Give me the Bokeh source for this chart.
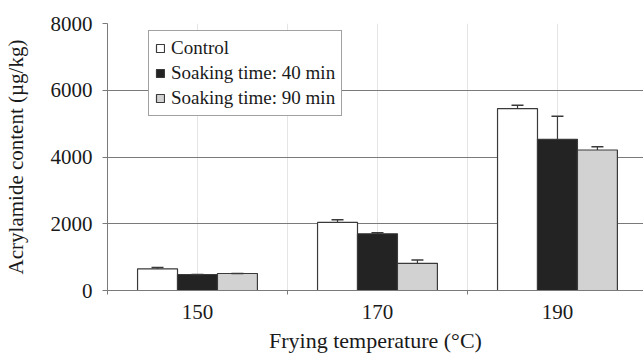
from bokeh.plotting import figure
from bokeh.models import (Range1d, LinearAxis, FixedTicker,
                          ColumnDataSource, Whisker, TeeHead, Legend, LegendItem)
from bokeh.transform import dodge
from bokeh.embed import file_html
from bokeh.resources import INLINE

temps = ["150", "170", "190"]
control = [650, 2040, 5450]
control_err = [40, 80, 100]
soak40 = [480, 1700, 4530]
soak40_err = [0, 30, 690]
soak90 = [510, 815, 4210]
soak90_err = [0, 100, 100]
series_labels = ["Control", "Soaking time: 40 min", "Soaking time: 90 min"]
y_ticks = [0, 2000, 4000, 6000, 8000]

FONT = "Liberation Serif"
GRID = "#7a7a7a"
EDGE = "#3a3a3a"

pos = list(range(len(temps)))
src = ColumnDataSource(dict(
    pos=pos, temp=temps,
    control=control, control_hi=[v + e for v, e in zip(control, control_err)],
    soak40=soak40, soak40_hi=[v + e for v, e in zip(soak40, soak40_err)],
    soak90=soak90, soak90_hi=[v + e for v, e in zip(soak90, soak90_err)],
))

# the last category is slightly cut by the right edge in the original
p = figure(width=643, height=355,
           x_range=Range1d(0, len(temps) - 0.022),
           y_range=Range1d(0, 8000),
           output_backend="svg", toolbar_location=None,
           x_axis_location=None,
           min_border_left=107, min_border_top=23, min_border_right=0, min_border_bottom=0)
p.outline_line_color = None
p.background_fill_color = "white"

# y axis
p.yaxis.ticker = FixedTicker(ticks=y_ticks)
p.yaxis.axis_line_color = GRID
p.yaxis.major_tick_line_color = GRID
p.yaxis.major_tick_out = 5
p.yaxis.major_tick_in = 0
p.yaxis.minor_tick_line_color = None
p.yaxis.major_label_text_font = FONT
p.yaxis.major_label_text_font_size = "21px"
p.yaxis.major_label_text_color = "#1a1a1a"
p.yaxis.major_label_standoff = 10
p.yaxis.axis_label = "Acrylamide content (µg/kg)"
p.yaxis.axis_label_text_font = FONT
p.yaxis.axis_label_text_font_style = "normal"
p.yaxis.axis_label_text_font_size = "21px"
p.yaxis.axis_label_text_color = "#1a1a1a"
p.yaxis.axis_label_standoff = 20
p.ygrid.ticker = FixedTicker(ticks=y_ticks)
p.ygrid.grid_line_color = GRID
p.ygrid.grid_line_width = 1.2

# x axis: boundary ticks between categories
bounds = list(range(len(temps) + 1))
bound_axis = LinearAxis(ticker=FixedTicker(ticks=bounds),
                        major_tick_out=4, major_tick_in=0,
                        major_label_overrides={b: "" for b in bounds},
                        major_label_text_font_size="0px", major_label_standoff=0,
                        minor_tick_line_color=None,
                        axis_line_color=GRID, major_tick_line_color=GRID)
p.add_layout(bound_axis, "below")
centers = [i + 0.5 for i in pos]
cat_axis = LinearAxis(ticker=FixedTicker(ticks=centers),
                      major_label_overrides={c: t for c, t in zip(centers, temps)},
                      axis_line_color=None, major_tick_line_color=None, minor_tick_line_color=None,
                      major_label_text_font=FONT, major_label_text_font_size="21px",
                      major_label_text_color="#1a1a1a", major_label_standoff=4,
                      axis_label="Frying temperature (°C)", axis_label_text_font=FONT,
                      axis_label_text_font_style="normal", axis_label_text_font_size="22px",
                      axis_label_text_color="#1a1a1a", axis_label_standoff=6)
p.add_layout(cat_axis, "below")

W = 0.222
r1 = p.vbar(x=dodge("pos", 0.5 - W), top="control", width=W, source=src,
            fill_color="white", line_color=EDGE, line_width=1.2)
r2 = p.vbar(x=dodge("pos", 0.5), top="soak40", width=W, source=src,
            fill_color="#232323", line_color=EDGE, line_width=1.2)
r3 = p.vbar(x=dodge("pos", 0.5 + W), top="soak90", width=W, source=src,
            fill_color="#d2d2d2", line_color=EDGE, line_width=1.2)

for off, lo, hi in [(0.5 - W, "control", "control_hi"), (0.5, "soak40", "soak40_hi"),
                    (0.5 + W, "soak90", "soak90_hi")]:
    p.add_layout(Whisker(source=src, base=dodge("pos", off), upper=hi, lower=lo,
                         dimension="height", line_color=EDGE, line_width=1.2,
                         upper_head=TeeHead(size=12, line_color=EDGE, line_width=1.5),
                         lower_head=None, level="overlay"))

legend = Legend(items=[LegendItem(label=series_labels[0], renderers=[r1]),
                       LegendItem(label=series_labels[1], renderers=[r2]),
                       LegendItem(label=series_labels[2], renderers=[r3])],
                location=(41, 174), orientation="vertical",
                glyph_width=10, glyph_height=10, label_height=20, spacing=3,
                padding=6, margin=0, label_standoff=6,
                label_text_font=FONT, label_text_font_size="19px", label_text_color="#1a1a1a",
                border_line_color="#444444", border_line_width=1.2,
                background_fill_color="white", background_fill_alpha=1.0)
p.add_layout(legend)

open("out.html", "w").write(file_html(p, INLINE))
